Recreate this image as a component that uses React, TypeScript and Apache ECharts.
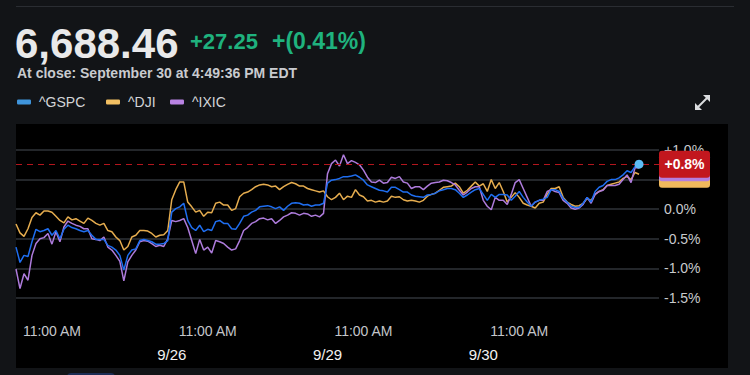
import React, { useEffect, useRef } from "react";
import * as echarts from "echarts";

// ---- data (percent change vs. start, 10-minute samples, 9:30 to 15:50 each day; last day ends at 16:00) ----
const days = ["9/25", "9/26", "9/29", "9/30"];
const slotsPerDay = 39;
const timeTickSlot = 9; // 11:00 AM
const timeTickLabel = "11:00 AM";
const trailingSlots = 5;

const seriesNames = ["^GSPC", "^DJI", "^IXIC"];

const gspcD1 = [-0.64, -0.9, -0.78, -0.8, -0.55, -0.34, -0.38, -0.36, -0.33, -0.44, -0.36, -0.5, -0.34, -0.27, -0.31, -0.33, -0.36, -0.38, -0.36, -0.44, -0.51, -0.51, -0.51, -0.61, -0.64, -0.69, -0.78, -1.03, -0.78, -0.69, -0.67, -0.53, -0.51, -0.53, -0.55, -0.59, -0.59, -0.58, -0.53];
const gspcD2 = [-0.05, 0.01, 0.04, 0.1, -0.19, -0.31, -0.36, -0.27, -0.38, -0.34, -0.36, -0.21, -0.19, -0.24, -0.24, -0.33, -0.34, -0.24, -0.12, -0.1, -0.05, -0.02, 0.04, 0.05, 0.06, 0.04, 0.01, 0.04, -0.02, 0.05, 0.1, 0.11, 0.1, 0.07, 0.08, 0.05, 0.07, 0.07, 0.1];
const gspcD3 = [0.44, 0.49, 0.5, 0.52, 0.55, 0.55, 0.56, 0.58, 0.54, 0.49, 0.41, 0.38, 0.35, 0.32, 0.31, 0.29, 0.37, 0.37, 0.33, 0.29, 0.29, 0.24, 0.22, 0.21, 0.2, 0.24, 0.25, 0.27, 0.31, 0.33, 0.35, 0.35, 0.33, 0.27, 0.2, 0.24, 0.29, 0.33, 0.35];
const gspcD4 = [0.25, 0.15, 0.25, 0.2, 0.25, 0.25, 0.24, 0.15, 0.22, 0.3, 0.2, 0.12, 0.05, 0.12, 0.15, 0.17, 0.2, 0.33, 0.33, 0.3, 0.18, 0.12, 0.05, 0.03, 0.03, 0.1, 0.2, 0.12, 0.3, 0.37, 0.4, 0.47, 0.5, 0.5, 0.53, 0.58, 0.65, 0.62, 0.72, 0.76];

const djiD1 = [-0.25, -0.4, -0.46, -0.33, -0.14, -0.06, -0.1, -0.03, -0.03, -0.05, -0.12, -0.19, -0.23, -0.13, -0.18, -0.16, -0.2, -0.24, -0.15, -0.19, -0.24, -0.27, -0.24, -0.36, -0.38, -0.47, -0.53, -0.69, -0.63, -0.47, -0.44, -0.36, -0.36, -0.37, -0.41, -0.47, -0.44, -0.43, -0.36];
const djiD2 = [0.16, 0.33, 0.46, 0.46, 0.12, 0.04, -0.05, -0.02, -0.12, -0.05, -0.06, 0.1, 0.12, 0.07, 0.07, -0.02, 0.01, 0.21, 0.27, 0.29, 0.33, 0.38, 0.41, 0.42, 0.41, 0.38, 0.39, 0.33, 0.38, 0.42, 0.45, 0.43, 0.39, 0.39, 0.35, 0.33, 0.31, 0.29, 0.31];
const djiD3 = [0.21, 0.16, 0.2, 0.27, 0.16, 0.22, 0.2, 0.33, 0.24, 0.21, 0.14, 0.15, 0.12, 0.14, 0.12, 0.14, 0.22, 0.2, 0.21, 0.16, 0.14, 0.15, 0.14, 0.12, 0.15, 0.22, 0.25, 0.27, 0.32, 0.37, 0.38, 0.39, 0.44, 0.38, 0.27, 0.32, 0.39, 0.46, 0.39];
const djiD4 = [0.43, 0.3, 0.5, 0.35, 0.45, 0.3, 0.12, 0.2, 0.28, 0.2, 0.1, 0.07, 0.05, 0.02, 0.1, 0.12, 0.25, 0.35, 0.35, 0.38, 0.2, 0.12, 0.08, 0.05, 0.06, 0.1, 0.18, 0.15, 0.25, 0.3, 0.33, 0.4, 0.42, 0.44, 0.46, 0.52, 0.55, 0.5, 0.62, 0.59];

const ixicD1 = [-1.01, -1.34, -1.09, -1.2, -0.78, -0.58, -0.5, -0.48, -0.41, -0.59, -0.38, -0.55, -0.3, -0.2, -0.24, -0.27, -0.29, -0.33, -0.33, -0.5, -0.51, -0.53, -0.47, -0.64, -0.69, -0.78, -0.88, -1.21, -0.89, -0.78, -0.69, -0.55, -0.53, -0.54, -0.58, -0.63, -0.61, -0.63, -0.5];
const ixicD2 = [-0.19, -0.21, -0.19, -0.16, -0.31, -0.53, -0.75, -0.51, -0.69, -0.64, -0.74, -0.53, -0.55, -0.58, -0.64, -0.69, -0.67, -0.53, -0.36, -0.31, -0.24, -0.21, -0.16, -0.15, -0.18, -0.16, -0.24, -0.19, -0.13, -0.1, -0.06, -0.07, -0.1, -0.07, -0.08, -0.12, -0.1, -0.13, -0.07];
const ixicD3 = [0.6, 0.77, 0.83, 0.73, 0.92, 0.77, 0.82, 0.79, 0.75, 0.66, 0.54, 0.46, 0.45, 0.49, 0.44, 0.45, 0.54, 0.52, 0.55, 0.46, 0.44, 0.35, 0.38, 0.38, 0.33, 0.39, 0.44, 0.45, 0.46, 0.49, 0.48, 0.45, 0.41, 0.32, 0.24, 0.29, 0.35, 0.38, 0.38];
const ixicD4 = [0.15, 0.05, -0.01, 0.2, 0.15, 0.15, 0.08, 0.25, 0.45, 0.5, 0.35, 0.2, 0.05, 0.12, 0.15, 0.15, 0.3, 0.33, 0.3, 0.28, 0.15, 0.1, 0.02, 0.0, 0.02, 0.08, 0.2, 0.1, 0.25, 0.3, 0.32, 0.4, 0.4, 0.4, 0.42, 0.5, 0.58, 0.45, 0.7, 0.7];

const yMin = -1.5;
const yMax = 1.0;
const yInterval = 0.5;

const headerPrice = "6,688.46";
const headerChange = "+27.25";
const headerPct = "+(0.41%)";
const headerSub = "At close: September 30 at 4:49:36 PM EDT";

// ---- styling ----
const FONT = '"Liberation Sans", Arial, Helvetica, sans-serif';
const C_GSPC = "#1f6ef0";
const C_DJI = "#e6ad4f";
const C_IXIC = "#ad7bdb";
const L_GSPC = "#3f95dc";
const L_DJI = "#f2bf62";
const L_IXIC = "#b883e3";
const legendLefts = [17, 106, 170];

function buildCategories(): string[] {
  const cats: string[] = [];
  days.forEach((d) => {
    for (let i = 0; i < slotsPerDay; i++) {
      const mins = 9 * 60 + 30 + i * 10;
      const hh = Math.floor(mins / 60);
      const mm = mins % 60;
      cats.push(`${d} ${hh}:${mm < 10 ? "0" + mm : mm}`);
    }
  });
  cats.push(`${days[days.length - 1]} 16:00`);
  for (let k = 0; k < trailingSlots; k++) cats.push(`pad${k}`);
  return cats;
}

const fmtPct = (v: number) => (v > 0 ? "+" : "") + v.toFixed(1) + "%";

export default function App() {
  const ref = useRef<HTMLDivElement>(null);

  useEffect(() => {
    if (!ref.current) return;
    const chart = echarts.init(ref.current, undefined, { renderer: "svg" });
    const cats = buildCategories();
    const gspc = [...gspcD1, ...gspcD2, ...gspcD3, ...gspcD4];
    const dji = [...djiD1, ...djiD2, ...djiD3, ...djiD4];
    const ixic = [...ixicD1, ...ixicD2, ...ixicD3, ...ixicD4];
    const lastIdx = gspc.length - 1;
    const dataDays = days.length * slotsPerDay;

    const lineSeries = (name: string, data: number[], color: string, z: number, extra: any = {}) => ({
      name,
      type: "line",
      data,
      xAxisIndex: 0,
      yAxisIndex: 0,
      symbol: "none",
      showSymbol: false,
      z,
      lineStyle: { color, width: 1.5 },
      itemStyle: { color },
      emphasis: { disabled: true },
      ...extra,
    });

    const legendColors = [L_GSPC, L_DJI, L_IXIC];
    const legends = seriesNames.map((n, i) => ({
      left: legendLefts[i],
      top: 95,
      padding: 0,
      icon: "roundRect",
      itemWidth: 14,
      itemHeight: 5,
      selectedMode: false,
      textStyle: { color: "#d2d4d8", fontSize: 14, fontFamily: FONT, padding: [0, 0, 0, 3] },
      data: [{ name: n, itemStyle: { color: legendColors[i], borderWidth: 0 } }],
    }));

    const option: any = {
      animation: false,
      backgroundColor: "transparent",
      textStyle: { fontFamily: FONT },
      grid: { left: 16, right: 91, top: 150, bottom: 77, containLabel: false },
      legend: legends,
      xAxis: [
        {
          type: "category",
          data: cats,
          boundaryGap: false,
          axisLine: { show: false },
          axisTick: { show: false },
          splitLine: { show: false },
          axisLabel: {
            color: "#c4c6ca",
            fontSize: 14,
            fontFamily: FONT,
            margin: 26,
            interval: (idx: number) => idx < dataDays && idx % slotsPerDay === timeTickSlot,
            formatter: () => timeTickLabel,
          },
        },
        {
          type: "category",
          data: cats,
          position: "bottom",
          offset: 23,
          boundaryGap: false,
          axisLine: { show: false },
          axisTick: { show: false },
          splitLine: { show: false },
          axisLabel: {
            color: "#f2f2f2",
            fontSize: 15,
            fontFamily: FONT,
            margin: 26,
            interval: (idx: number) => idx > 0 && idx < dataDays && idx % slotsPerDay === 0,
            formatter: (v: string) => v.split(" ")[0],
          },
        },
      ],
      yAxis: {
        type: "value",
        position: "right",
        min: yMin,
        max: yMax,
        interval: yInterval,
        axisLine: { show: false },
        axisTick: { show: false },
        splitLine: { show: true, lineStyle: { color: "#2f3338", width: 1.5 } },
        axisLabel: {
          color: "#c8cacd",
          fontSize: 14,
          fontFamily: FONT,
          margin: 5,
          align: "left",
          formatter: (v: number) => fmtPct(Math.abs(v) < 1e-9 ? 0 : v),
        },
      },
      series: [
        lineSeries(seriesNames[1], dji, C_DJI, 2),
        lineSeries(seriesNames[2], ixic, C_IXIC, 3),
        lineSeries(seriesNames[0], gspc, C_GSPC, 4, {
          markLine: {
            silent: true,
            symbol: ["none", "none"],
            label: { show: false },
            lineStyle: { color: "#b3161d", type: [6, 5], width: 1.2 },
            data: [{ yAxis: gspc[lastIdx] }],
          },
          markPoint: {
            silent: true,
            symbol: "circle",
            symbolSize: 9,
            itemStyle: { color: "#5cbcf6" },
            label: { show: false },
            data: [{ coord: [lastIdx, gspc[lastIdx]] }],
          },
        }),
      ],
    };
    chart.setOption(option);

    const yOf = (v: number) => chart.convertToPixel({ yAxisIndex: 0 }, v) as number;
    const boxX = 659;
    const boxW = 51;
    const boxH = 27;
    const boxes = [
      { v: dji[dji.length - 1], color: "#f0b95c" },
      { v: ixic[ixic.length - 1], color: "#b47fe0" },
      { v: gspc[lastIdx], color: "#c2171e" },
    ];

    const graphic: any[] = [
      // top separator line
      { type: "line", shape: { x1: 16, y1: 6.5, x2: 734, y2: 6.5 }, style: { stroke: "#2a2d32", lineWidth: 1 }, silent: true },
      {
        type: "text", x: 15, y: 43,
        style: { text: headerPrice, fill: "#e9e9ea", fontSize: 42, fontWeight: "bold", fontFamily: FONT, verticalAlign: "middle", align: "left" },
      },
      {
        type: "text", x: 190, y: 41,
        style: { text: headerChange, fill: "#1fb27e", fontSize: 22, fontWeight: "bold", fontFamily: FONT, verticalAlign: "middle", align: "left" },
      },
      {
        type: "text", x: 272, y: 41,
        style: { text: headerPct, fill: "#1fb27e", fontSize: 23, fontWeight: "bold", fontFamily: FONT, verticalAlign: "middle", align: "left" },
      },
      {
        type: "text", x: 17, y: 73,
        style: { text: headerSub, fill: "#c9cbcf", fontSize: 14, fontWeight: "bold", fontFamily: FONT, verticalAlign: "middle", align: "left" },
      },
      // expand icon
      { type: "line", shape: { x1: 698, y1: 107, x2: 707, y2: 98 }, style: { stroke: "#dcdde0", lineWidth: 2 } },
      { type: "polygon", shape: { points: [[710, 95], [710, 102], [703, 95]] }, style: { fill: "#dcdde0" } },
      { type: "polygon", shape: { points: [[695, 110], [695, 103], [702, 110]] }, style: { fill: "#dcdde0" } },
      // bottom partial button
      { type: "rect", shape: { x: 67, y: 373, width: 48, height: 10, r: 4 }, style: { fill: "#1c2d55" } },
    ];

    boxes.forEach((b, i) => {
      const cy = yOf(b.v);
      graphic.push({
        type: "rect",
        z: 100 + i,
        shape: { x: boxX, y: cy - boxH / 2, width: boxW, height: boxH, r: 3 },
        style: { fill: b.color },
      });
    });
    graphic.push({
      type: "text",
      z: 110,
      x: boxX + boxW / 2,
      y: yOf(gspc[lastIdx]),
      style: { text: fmtPct(gspc[lastIdx]), fill: "#ffffff", fontSize: 14, fontWeight: "bold", fontFamily: FONT, align: "center", verticalAlign: "middle" },
    });

    chart.setOption({ graphic });

    return () => chart.dispose();
  }, []);

  return (
    <div style={{ position: "fixed", left: 0, top: 0, width: 750, height: 375, background: "#121417", overflow: "hidden" }}>
      <div style={{ position: "absolute", left: 16, top: 124, width: 712, height: 244, background: "#000" }} />
      <div ref={ref} style={{ position: "absolute", left: 0, top: 0, width: 750, height: 375 }} />
    </div>
  );
}
